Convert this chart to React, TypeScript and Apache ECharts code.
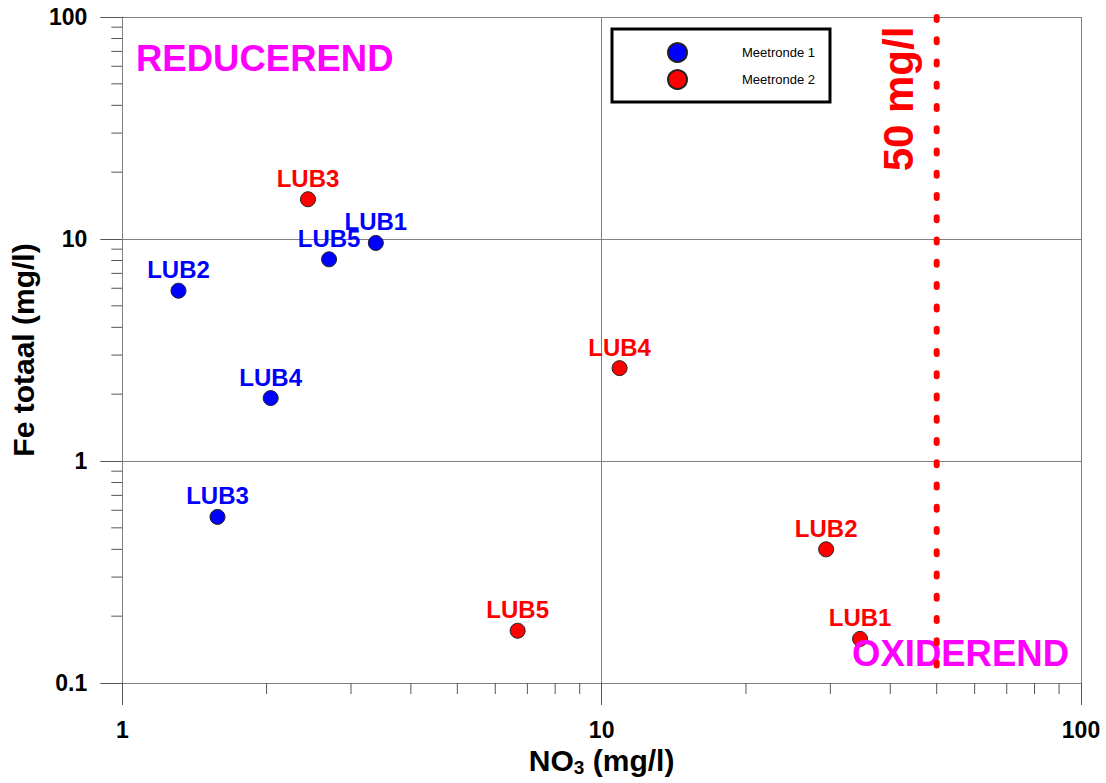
import React, { useEffect, useRef } from "react";
import * as echarts from "echarts";

const FONT = "'Liberation Sans', Arial, sans-serif";

const names = ["LUB1", "LUB2", "LUB3", "LUB4", "LUB5"];
const round1NO3 = [3.38, 1.31, 1.58, 2.04, 2.7];
const round1Fe = [9.6, 5.85, 0.56, 1.92, 8.1];
const round2NO3 = [34.6, 29.4, 2.44, 10.9, 6.68];
const round2Fe = [0.158, 0.4, 15.1, 2.62, 0.172];

const xMinorTicks = [2, 3, 4, 5, 6, 7, 8, 9, 20, 30, 40, 50, 60, 70, 80, 90];
const yMinorTicks = [0.2, 0.3, 0.4, 0.5, 0.6, 0.7, 0.8, 0.9, 2, 3, 4, 5, 6, 7, 8, 9, 20, 30, 40, 50, 60, 70, 80, 90];
const limitNO3 = 50;
const xRange = [1, 100];
const yRange = [0.1, 100];

export default function App() {
  const ref = useRef<HTMLDivElement>(null);
  useEffect(() => {
    if (!ref.current) return;
    const chart = echarts.init(ref.current, null, { renderer: "svg" });
    const mk = (xs: number[], ys: number[]) =>
      names.map((n, i) => ({ name: n, value: [xs[i], ys[i]] }));
    const labelStyle = (color: string) => ({
      show: true,
      position: "top",
      distance: 1,
      formatter: "{b}",
      color,
      fontSize: 24,
      fontWeight: "bold",
      fontFamily: FONT,
    });
    const tickColor = "#555";
    const axisColor = "#808080";
    chart.setOption({
      animation: false,
      backgroundColor: "#fff",
      grid: { left: 121, right: 25, top: 17, bottom: 100, containLabel: false },
      legend: {
        orient: "vertical",
        left: 612,
        top: 29,
        padding: [13, 15, 12, 55],
        itemGap: 6,
        itemWidth: 19,
        itemHeight: 19,
        icon: "circle",
        borderColor: "#000",
        borderWidth: 3,
        data: ["Meetronde 1", "Meetronde 2"],
        textStyle: { fontSize: 13, color: "#000", fontFamily: FONT, padding: [0, 0, 0, 50] },
      },
      xAxis: {
        type: "log",
        logBase: 10,
        min: xRange[0],
        max: xRange[1],
        axisLine: { show: true, lineStyle: { color: axisColor, width: 1 } },
        axisTick: { show: true, inside: false, length: 22, lineStyle: { color: tickColor } },
        axisLabel: { fontSize: 23, fontWeight: "bold", color: "#000", margin: 35, fontFamily: FONT },
        splitLine: { show: true, lineStyle: { color: axisColor, width: 1 } },
        name: "{a|NO}{s|3}{a| (mg/l)}",
        nameLocation: "middle",
        nameGap: 59,
        nameTextStyle: {
          color: "#000",
          rich: {
            a: { fontSize: 30, fontWeight: "bold", fontFamily: FONT, color: "#000" },
            s: { fontSize: 19, fontWeight: "bold", fontFamily: FONT, color: "#000", verticalAlign: "bottom", padding: [13, 0, 0, 0] },
          },
        },
      },
      yAxis: {
        type: "log",
        logBase: 10,
        min: yRange[0],
        max: yRange[1],
        axisLine: { show: true, lineStyle: { color: axisColor, width: 1 } },
        axisTick: { show: true, inside: false, length: 22, lineStyle: { color: tickColor } },
        axisLabel: { fontSize: 23, fontWeight: "bold", color: "#000", margin: 35, fontFamily: FONT },
        splitLine: { show: true, lineStyle: { color: axisColor, width: 1 } },
        name: "Fe totaal (mg/l)",
        nameLocation: "middle",
        nameGap: 82,
        nameTextStyle: { fontSize: 30, fontWeight: "bold", color: "#000", fontFamily: FONT },
      },
      graphic: [
        {
          type: "text",
          left: 136,
          top: 40,
          z: 3,
          style: { text: "REDUCEREND", fill: "#FF00FF", font: `bold 36.5px ${FONT}` },
        },
        {
          type: "text",
          x: 852,
          y: 653,
          z: 3,
          style: { text: "OXIDEREND", fill: "#FF00FF", font: `bold 36.5px ${FONT}`, textAlign: "left", textVerticalAlign: "middle" },
        },
        {
          type: "text",
          x: 898,
          y: 99,
          rotation: Math.PI / 2,
          z: 3,
          style: { text: "50 mg/l", fill: "#FF0000", font: `bold 42px ${FONT}`, textAlign: "center", textVerticalAlign: "middle" },
        },
      ],
      series: [
        {
          name: "Meetronde 1",
          type: "scatter",
          symbolSize: 15,
          itemStyle: { color: "#0000FF", borderColor: "#222", borderWidth: 1, opacity: 1 },
          label: labelStyle("#0000FF"),
          data: mk(round1NO3, round1Fe),
          z: 2,
        },
        {
          name: "Meetronde 2",
          type: "scatter",
          symbolSize: 15,
          itemStyle: { color: "#FF0000", borderColor: "#222", borderWidth: 1, opacity: 1 },
          label: labelStyle("#FF0000"),
          data: mk(round2NO3, round2Fe),
          z: 2,
        },
        {
          name: "limit",
          type: "line",
          symbol: "none",
          z: 4,
          lineStyle: { color: "#FF0000", width: 6, type: [3, 19.26], cap: "round" },
          data: [
            [limitNO3, yRange[1]],
            [limitNO3, yRange[0]],
          ],
        },
        {
          name: "xminor",
          type: "custom",
          clip: false,
          z: 1,
          renderItem: (params: any, api: any) => {
            const p = api.coord([api.value(0), api.value(1)]);
            return {
              type: "line",
              shape: { x1: p[0], y1: p[1], x2: p[0], y2: p[1] + 11 },
              style: { stroke: tickColor, lineWidth: 1 },
            };
          },
          data: xMinorTicks.map((v) => [v, yRange[0]]),
        },
        {
          name: "yminor",
          type: "custom",
          clip: false,
          z: 1,
          renderItem: (params: any, api: any) => {
            const p = api.coord([api.value(0), api.value(1)]);
            return {
              type: "line",
              shape: { x1: p[0] - 11, y1: p[1], x2: p[0], y2: p[1] },
              style: { stroke: tickColor, lineWidth: 1 },
            };
          },
          data: yMinorTicks.map((v) => [xRange[0], v]),
        },
      ],
    });
    return () => chart.dispose();
  }, []);
  return (
    <div
      ref={ref}
      style={{ position: "fixed", left: 0, top: 0, width: 1106, height: 783, background: "#fff" }}
    />
  );
}
